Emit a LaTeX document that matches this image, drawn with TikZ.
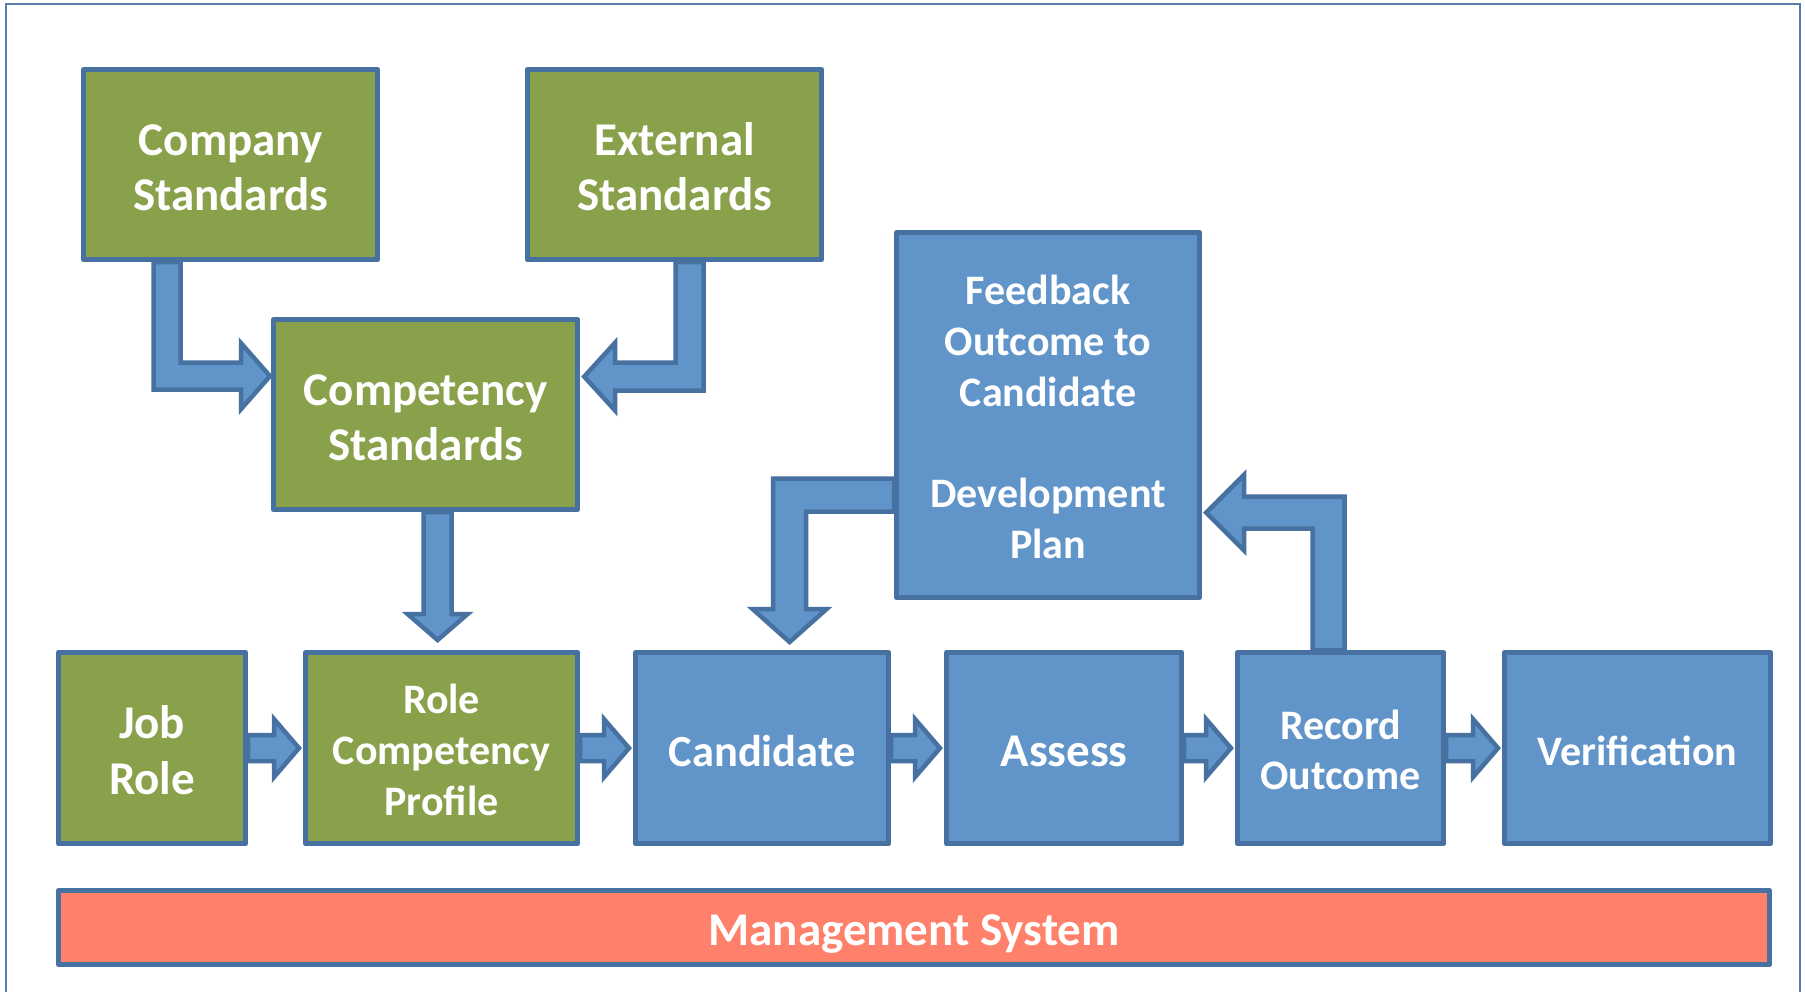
\documentclass[tikz,border=0pt]{standalone}
\usepackage{fontspec}
\newfontfamily\calfont{Carlito}
\usetikzlibrary{calc}
\pgfdeclarelayer{background}
\pgfsetlayers{background,main}
\definecolor{boxgreen}{HTML}{8AA14C}
\definecolor{boxblue}{HTML}{6195C9}
\definecolor{edgeblue}{HTML}{4671A0}
\definecolor{salmonfill}{HTML}{FF806B}
\definecolor{framecol}{HTML}{5A7EAA}
\tikzset{
  box/.style={draw=edgeblue, line width=5.2pt, line join=round, text=white,
    align=center, inner sep=0pt, anchor=north west},
  gbox/.style={box, fill=boxgreen},
  bbox/.style={box, fill=boxblue},
  mbox/.style={box, fill=salmonfill},
  barrow/.style={draw=edgeblue, fill=boxblue, line width=4.5pt, line join=miter},
  framebox/.style={draw=framecol, line width=2.5pt},
}
\newcommand\fz[2]{\calfont\bfseries\fontsize{#1}{#2}\selectfont}
% down then right
\newcommand\elbowDR[5]{\path[barrow] let \p1=(#1), \p2=(#2) in (\x1-#3,\y1) -- (\x1+#3,\y1) -- (\x1+#3,\y2+#3) -- (\x2-#5,\y2+#3) -- (\x2-#5,\y2+#4) -- (\x2,\y2) -- (\x2-#5,\y2-#4) -- (\x2-#5,\y2-#3) -- (\x1-#3,\y2-#3) -- cycle;}
% down then left
\newcommand\elbowDL[5]{\path[barrow] let \p1=(#1), \p2=(#2) in (\x1+#3,\y1) -- (\x1-#3,\y1) -- (\x1-#3,\y2+#3) -- (\x2+#5,\y2+#3) -- (\x2+#5,\y2+#4) -- (\x2,\y2) -- (\x2+#5,\y2-#4) -- (\x2+#5,\y2-#3) -- (\x1+#3,\y2-#3) -- cycle;}
% straight down
\newcommand\straightD[5]{\path[barrow] let \p1=(#1), \p2=(#2) in (\x1-#3,\y1) -- (\x1+#3,\y1) -- (\x1+#3,\y2+#5) -- (\x1+#4,\y2+#5) -- (\x1,\y2) -- (\x1-#4,\y2+#5) -- (\x1-#3,\y2+#5) -- cycle;}
% left then down
\newcommand\elbowLD[5]{\path[barrow] let \p1=(#1), \p2=(#2) in (\x1,\y1+#3) -- (\x2-#3,\y1+#3) -- (\x2-#3,\y2+#5) -- (\x2-#4,\y2+#5) -- (\x2,\y2) -- (\x2+#4,\y2+#5) -- (\x2+#3,\y2+#5) -- (\x2+#3,\y1-#3) -- (\x1,\y1-#3) -- cycle;}
% up then left
\newcommand\elbowUL[5]{\path[barrow] let \p1=(#1), \p2=(#2) in (\x1+#3,\y1) -- (\x1+#3,\y2+#3) -- (\x2+#5,\y2+#3) -- (\x2+#5,\y2+#4) -- (\x2,\y2) -- (\x2+#5,\y2-#4) -- (\x2+#5,\y2-#3) -- (\x1-#3,\y2-#3) -- (\x1-#3,\y1) -- cycle;}
% straight right
\newcommand\straightR[2]{\path[barrow] let \p1=(#1), \p2=(#2) in (\x1,\y1+13pt) -- (\x2-29pt,\y1+13pt) -- (\x2-29pt,\y1+29pt) -- (\x2-4pt,\y1) -- (\x2-29pt,\y1-29pt) -- (\x2-29pt,\y1-13pt) -- (\x1,\y1-13pt) -- cycle;}
\begin{document}
\begin{tikzpicture}[x=1pt,y=-1pt]
\useasboundingbox (0,0) rectangle (1805,991);
\begin{pgfonlayer}{background}
\fill[white] (0,0) rectangle (1805,991);
\draw[framebox] (6,4) rectangle (1800,1020);
\end{pgfonlayer}

% boxes
\node[gbox, minimum width=294pt, minimum height=190pt, font=\fz{47}{55.5}, text height=92.6pt, text depth=0pt] (company) at (81,67) {Company\\Standards};
\node[gbox, minimum width=294pt, minimum height=190pt, font=\fz{47}{55.5}, text height=92.6pt, text depth=0pt] (external) at (525,67) {External\\Standards};
\node[gbox, minimum width=304pt, minimum height=190pt, font=\fz{47}{55.5}, text height=92.6pt, text depth=0pt] (comp) at (271,317) {Competency\\Standards};
\node[bbox, minimum width=303pt, minimum height=365pt, font=\fz{42}{51}, text height=287pt, text depth=0pt] (feedback) at (894,230) {Feedback\\Outcome to\\Candidate\\[50pt]Development\\Plan};
\node[gbox, minimum width=187pt, minimum height=191pt, font=\fz{47}{55.7}, text height=92.4pt, text depth=0pt] (job) at (56,650) {Job\\Role};
\node[gbox, minimum width=272pt, minimum height=191pt, font=\fz{42}{51}, text height=134.4pt, text depth=0pt] (role) at (303,650) {Role\\Competency\\Profile};
\node[bbox, minimum width=253pt, minimum height=191pt, font=\fz{44.5}{53}, text height=37.6pt, text depth=0pt] (cand) at (633,650) {Candidate};
\node[bbox, minimum width=235pt, minimum height=191pt, font=\fz{47}{55.5}, text height=37.6pt, text depth=0pt] (assess) at (944,650) {Assess};
\node[bbox, minimum width=206pt, minimum height=191pt, font=\fz{42}{50}, text height=82.4pt, text depth=0pt] (record) at (1235,650) {Record\\Outcome};
\node[bbox, minimum width=266pt, minimum height=191pt, font=\fz{42}{50}, text height=34.4pt, text depth=0pt] (verif) at (1502,650) {Verification};
\node[mbox, minimum width=1711pt, minimum height=74pt, font=\fz{47}{55.5}, text height=35.4pt, text depth=0pt] (mgmt) at (56,888) {Management System};

% connector ends
\coordinate (a1s) at ($(company.south)+(-63.5,0)$);
\coordinate (a1t) at ($(comp.west)+(-1,-38.5)$);
\coordinate (a2s) at ($(external.south)+(15,0)$);
\coordinate (a2t) at ($(comp.east)+(4,-38)$);
\coordinate (a3s) at ($(comp.south)+(12,0)$);
\coordinate (a3t) at ($(role.north)+(-4,-10)$);
\coordinate (a4s) at ($(feedback.west)+(0,80)$);
\coordinate (a4t) at ($(cand.north)+(27.5,-8)$);
\coordinate (a5s) at ($(record.north)+(-12,0)$);
\coordinate (a5t) at ($(feedback.east)+(4,97.5)$);

\begin{pgfonlayer}{background}
\elbowDR{a1s}{a1t}{13.5pt}{33pt}{29pt}
\elbowDL{a2s}{a2t}{14pt}{34pt}{31pt}
\straightD{a3s}{a3t}{14pt}{30pt}{26pt}
\elbowLD{a4s}{a4t}{16.5pt}{37pt}{33pt}
\elbowUL{a5s}{a5t}{16pt}{38pt}{38pt}
\straightR{job.east}{role.west}
\straightR{role.east}{cand.west}
\straightR{cand.east}{assess.west}
\straightR{assess.east}{record.west}
\straightR{record.east}{verif.west}
\end{pgfonlayer}
\end{tikzpicture}
\end{document}
